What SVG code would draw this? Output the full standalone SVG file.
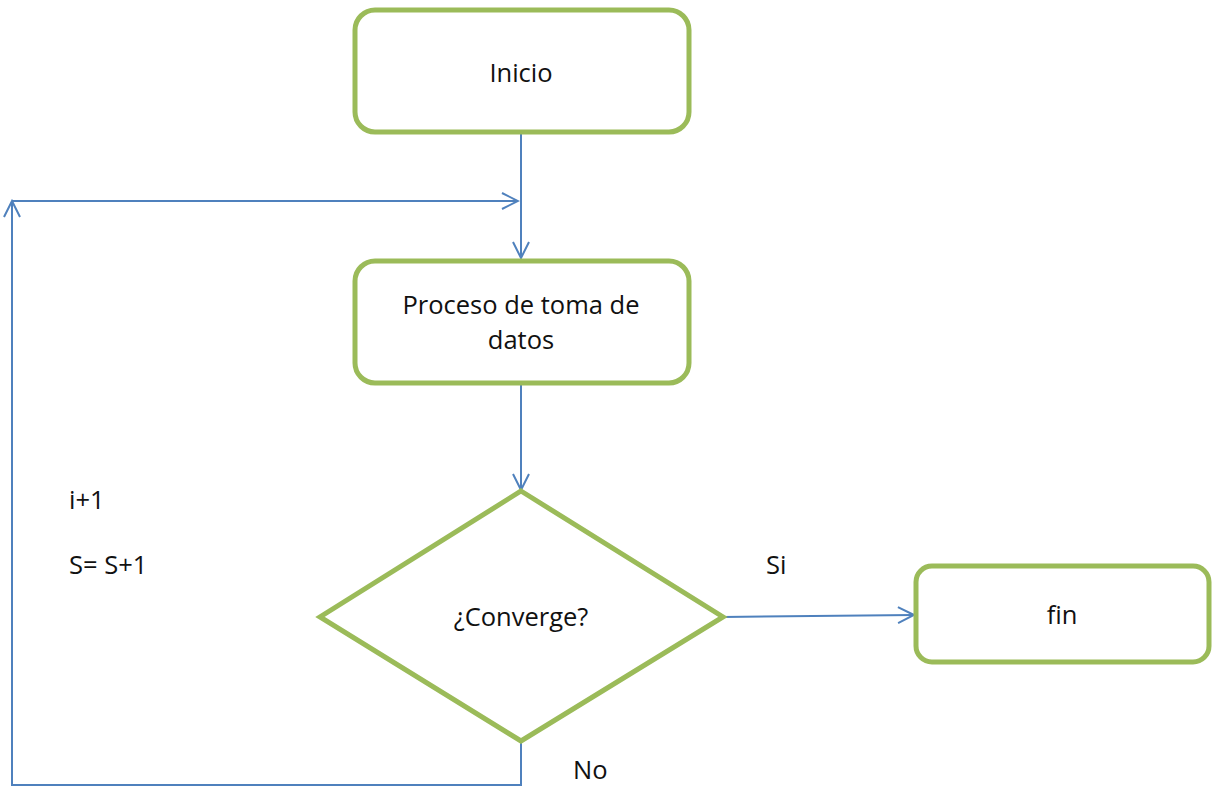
<svg xmlns="http://www.w3.org/2000/svg" width="1212" height="787" viewBox="0 0 1212 787">
<style>
.node{fill:#fff;stroke:#9BBB59;stroke-width:5}
.conn{fill:none;stroke:#4F81BD;stroke-width:2}
text{font-family:"Open Sans","Liberation Sans",sans-serif;font-size:25.5px;fill:#111}
.c{text-anchor:middle}
</style>
<defs>
<marker id="arr" viewBox="0 0 20 20" refX="18" refY="10" markerWidth="20" markerHeight="20" markerUnits="userSpaceOnUse" orient="auto">
<path d="M2,2 L18,10 L2,18" fill="none" stroke="#4F81BD" stroke-width="2"/>
</marker>
</defs>
<rect width="1212" height="787" fill="#fff"/>
<g id="connectors">
<line class="conn" x1="521" y1="134" x2="521" y2="258" marker-end="url(#arr)"/>
<line class="conn" x1="521" y1="385" x2="521" y2="490" marker-end="url(#arr)"/>
<line class="conn" x1="723" y1="617" x2="914" y2="615" marker-end="url(#arr)"/>
<polyline class="conn" points="521,741 521,785 12,785 12,201" marker-end="url(#arr)"/>
<line class="conn" x1="12" y1="201" x2="518" y2="201" marker-end="url(#arr)"/>
</g>
<g id="inicio">
<rect class="node" x="355" y="10" width="334" height="122" rx="20"/>
<text class="c" x="521" y="82">Inicio</text>
</g>
<g id="proceso">
<rect class="node" x="355" y="261" width="334" height="122" rx="20"/>
<text class="c" x="521" y="314">Proceso de toma de</text>
<text class="c" x="521" y="349">datos</text>
</g>
<g id="converge">
<polygon class="node" points="521,491 723,617 521,741 320,617"/>
<text class="c" x="521" y="626">¿Converge?</text>
</g>
<g id="fin">
<rect class="node" x="916" y="566" width="293" height="96" rx="16"/>
<text class="c" x="1062" y="624">fin</text>
</g>
<g id="labels">
<text x="766" y="574">Si</text>
<text x="573" y="779">No</text>
<text x="69" y="509">i+1</text>
<text x="69" y="574">S= S+1</text>
</g>
</svg>
